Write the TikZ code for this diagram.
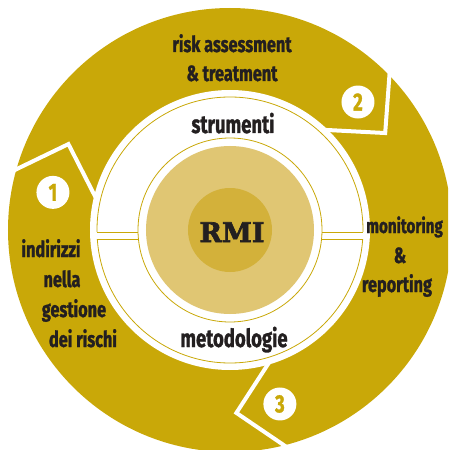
\documentclass[tikz,border=0pt]{standalone}
\usepackage{fontspec}
\setmainfont{Fira Sans}[FakeStretch=0.74, BoldFeatures={FakeBold=1.2}]
\newfontfamily\rmifont{DejaVu Serif}[BoldFeatures={FakeBold=2.5}]
\definecolor{ringgold}{HTML}{C9A808}
\definecolor{discpale}{HTML}{E0C673}
\definecolor{disccore}{HTML}{D3B13A}
\definecolor{inkdark}{HTML}{231F20}
\tikzset{
  steptext/.style={text=inkdark, inner sep=0pt, anchor=base,
    font=\bfseries\fontsize{22}{23}\selectfont},
  bandtext/.style={steptext, font=\bfseries\fontsize{25}{26}\selectfont},
  numdisc/.style={circle, fill=white, minimum size=33pt, inner sep=0pt,
    text=ringgold, font=\bfseries\fontsize{25}{25}\selectfont},
  notch/.style={white, line width=4pt, line join=miter},
  bandline/.style={ringgold, line width=0.8pt},
}

\begin{document}
\begin{tikzpicture}[x=1pt,y=1pt]
	%%%%% START %%%%%
	\clip (-230,-220) rectangle (218,230);
	
	% outer ring and the three notches
	\fill[ringgold] (0,0) circle (222);
	\fill[white] (0,0) circle (140);
	\foreach \a/\n/\b in {167/1/168,47/2/45,-73/3/-74}{
		\draw[notch] (\a:137) -- (\a-15:183) -- (\a-2:226);
		\node[numdisc] (num\n) at (\b:181) {\n};
	}
	
	% white bands
	\draw[bandline] (0,0) circle (133);
	\draw[bandline] (0,0) circle (92);
	\fill[white] (-139,-9) rectangle (-94,-2);
	\fill[white] (94,-9) rectangle (139,-2);
	\draw[bandline] (-133,-2) -- (-92,-2);
	\draw[bandline] (-133,-9) -- (-92,-9);
	\draw[bandline] (92,-2) -- (133,-2);
	\draw[bandline] (92,-9) -- (133,-9);
	
	% core
	\fill[discpale] (0,0) circle (84);
	\fill[disccore] (0,0) circle (42);
	\node[text=inkdark, anchor=base, inner sep=0pt,
		font=\rmifont\bfseries\fontsize{27}{27}\selectfont] (rmi) at (2,-12) {RMI};
	
	\node[bandtext] (strum) at (3,97) {strumenti};
	\node[bandtext] (metod) at (4,-117) {metodologie};
	
	\node[steptext] (risk) at (2,178) {risk assessment};
	\node[steptext] (treat) at (2,149) {\& treatment};
	
	\node[steptext] (ind1) at (-179,-27) {indirizzi};
	\node[steptext] (ind2) at (-168,-57) {nella};
	\node[steptext] (ind3) at (-156,-87) {gestione};
	\node[steptext] (ind4) at (-147,-117) {dei rischi};
	
	\node[steptext, anchor=base west, font=\bfseries\fontsize{20.5}{22}\selectfont]
		(mon1) at (136,-3) {monitoring};
	\node[steptext] (mon2) at (170,-33) {\&};
	\node[steptext] (mon3) at (167,-62) {reporting};
	
	%%%%% END %%%%%
\end{tikzpicture}
\end{document}
